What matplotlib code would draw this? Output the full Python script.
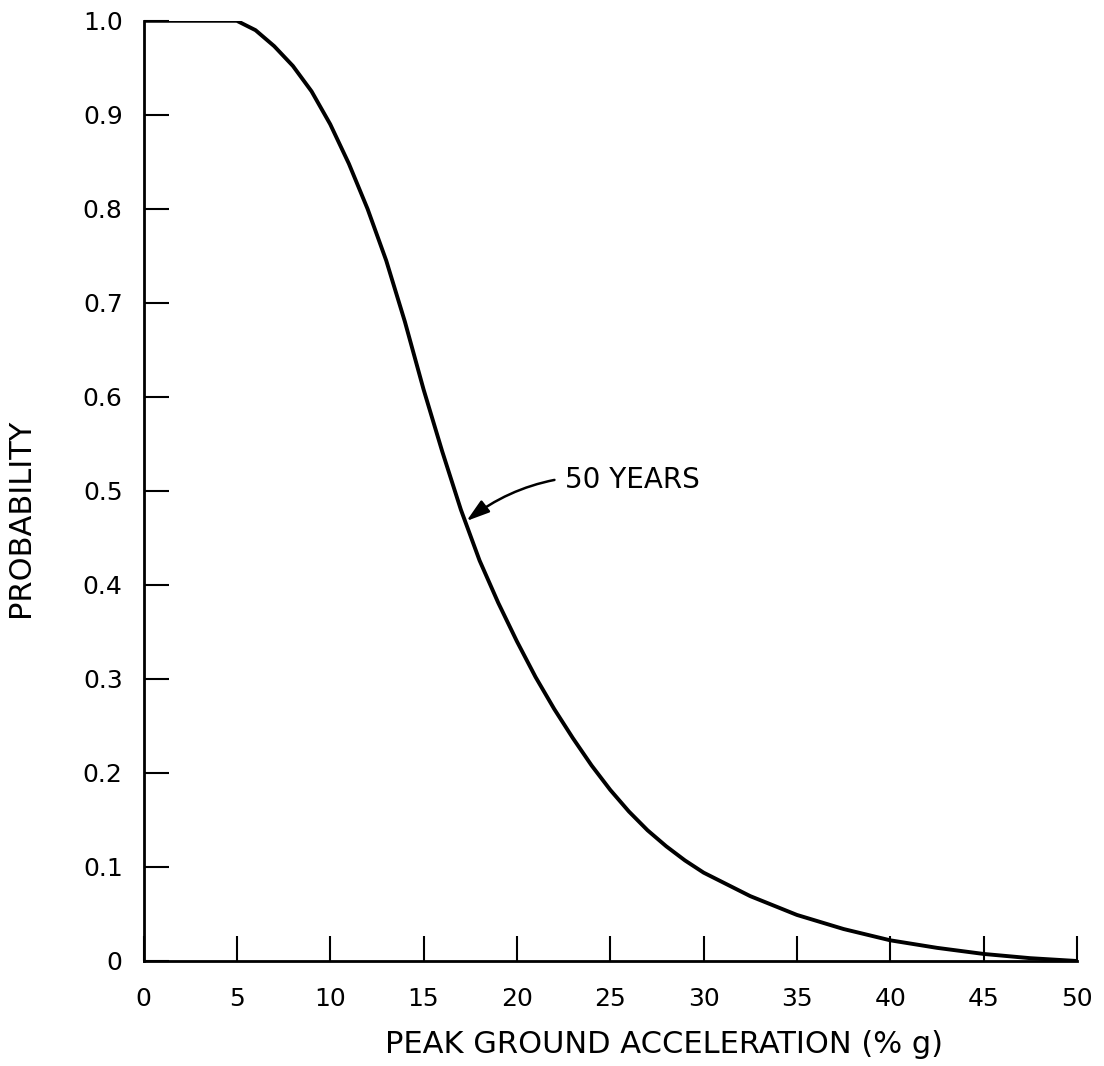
import matplotlib
matplotlib.use("Agg")
import matplotlib.pyplot as plt

# probability of exceedance in 50 years vs peak ground acceleration
accel_pct_g = [0, 2.5, 5, 6, 7, 8, 9, 10, 11, 12, 13, 14, 15, 16, 17, 18, 19, 20,
               21, 22, 23, 24, 25, 26, 27, 28, 29, 30, 32.5, 35, 37.5, 40, 42.5,
               45, 47.5, 50]
probability = [1.0, 1.0, 1.0, 0.99, 0.973, 0.952, 0.925, 0.89, 0.848, 0.800,
               0.745, 0.680, 0.608, 0.542, 0.480, 0.426, 0.381, 0.340, 0.302,
               0.268, 0.237, 0.208, 0.182, 0.159, 0.139, 0.122, 0.107, 0.094,
               0.069, 0.049, 0.034, 0.022, 0.014, 0.0075, 0.003, 0.0]

x_ticks = [0, 5, 10, 15, 20, 25, 30, 35, 40, 45, 50]
y_ticks = [0, 0.1, 0.2, 0.3, 0.4, 0.5, 0.6, 0.7, 0.8, 0.9, 1.0]
y_tick_labels = ["0", "0.1", "0.2", "0.3", "0.4", "0.5", "0.6", "0.7", "0.8", "0.9", "1.0"]

plt.rcParams["font.family"] = "DejaVu Sans"

fig = plt.figure(figsize=(11.04, 10.66), dpi=100)
ax = fig.add_axes([0.130, 0.0985, 0.8455, 0.882])

ax.plot(accel_pct_g, probability, color="black", lw=2.8,
        solid_capstyle="butt", solid_joinstyle="round")

ax.set_xlim(0, 50)
ax.set_ylim(0, 1.0)

# only left and bottom axis lines, ticks pointing inwards
ax.spines["top"].set_visible(False)
ax.spines["right"].set_visible(False)
ax.spines["left"].set_linewidth(2.0)
ax.spines["bottom"].set_linewidth(2.0)

ax.set_xticks(x_ticks)
ax.set_xticklabels([str(t) for t in x_ticks])
ax.set_yticks(y_ticks)
ax.set_yticklabels(y_tick_labels)
ax.tick_params(axis="x", direction="in", length=18, width=1.5, pad=19, labelsize=18)
ax.tick_params(axis="y", direction="in", length=18, width=1.5, pad=15, labelsize=18)

ax.set_xlabel("PEAK GROUND ACCELERATION (% g)", fontsize=22, va="center")
ax.xaxis.set_label_coords(0.558, -0.089)
ax.set_ylabel("PROBABILITY", fontsize=22, va="center")
ax.yaxis.set_label_coords(-0.132, 0.471)

ax.annotate("50 YEARS", xy=(17.3, 0.468), xytext=(22.6, 0.512),
            fontsize=20, ha="left", va="center",
            arrowprops=dict(arrowstyle="-|>,head_length=0.7,head_width=0.22",
                            connectionstyle="arc3,rad=0.22",
                            color="black", lw=1.8, shrinkA=6, shrinkB=0))

fig.savefig("out.png", dpi=100)
